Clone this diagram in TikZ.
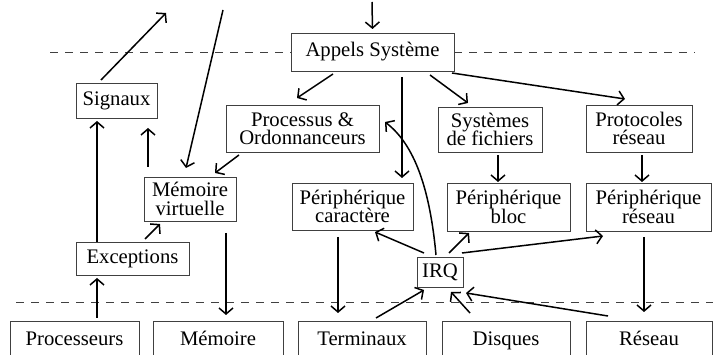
\documentclass[tikz,border=0pt]{standalone}
\usepackage{fontspec}
\setmainfont{Liberation Serif}
\usetikzlibrary{arrows.meta,calc}
\lineskiplimit=-20pt
\tikzset{
  box/.style={draw=black!75, line width=0.8pt, inner sep=0pt, align=center,
    font=\fontsize{20.7pt}{18.3pt}\selectfont},
  hwbox/.style={box, minimum height=40pt, text height=14pt, text depth=4.5pt},
  arr/.style={line width=1.5pt, -{Straight Barb[length=6pt,width=14pt,line width=1.5pt]}},
  sep/.style={draw=black!75, line width=0.8pt, dash pattern=on 8pt off 7pt}
}
\begin{document}
\begin{tikzpicture}[x=1pt,y=-1pt]
\useasboundingbox (0,0) rectangle (724,355);
\clip (0,0) rectangle (724,355);
% boxes
\node[box, minimum width=163pt, minimum height=38pt] (app) at (372.5,52) {Appels Système};
\node[box, minimum width=81pt, minimum height=35pt] (sig) at (116.5,100.5) {Signaux};
\node[box, minimum width=153pt, minimum height=47pt] (proc) at (302.5,128.5) {Processus \&\\Ordonnanceurs};
\node[box, minimum width=104pt, minimum height=45pt] (sdf) at (490,129.5) {Systèmes\\de fichiers};
\node[box, minimum width=106pt, minimum height=47pt] (prot) at (639,128.5) {Protocoles\\réseau};
\node[box, minimum width=92pt, minimum height=44pt] (mv) at (190,199) {Mémoire\\virtuelle};
\node[box, minimum width=121pt, minimum height=47pt] (pc) at (352.5,206.5) {Périphérique\\caractère};
\node[box, minimum width=123pt, minimum height=48pt] (pb) at (508.5,207) {Périphérique\\bloc};
\node[box, minimum width=125pt, minimum height=48pt] (pr) at (648.5,207) {Périphérique\\réseau};
\node[box, minimum width=113pt, minimum height=33pt] (exc) at (132.5,258.5) {Exceptions};
\node[box, minimum width=46pt, minimum height=30pt] (irq) at (440,272) {IRQ};
\node[hwbox, minimum width=129pt] (cpu) at (74.5,341) {Processeurs};
\node[hwbox, minimum width=130pt] (mem) at (218,341) {Mémoire};
\node[hwbox, minimum width=128pt] (term) at (362,341) {Terminaux};
\node[hwbox, minimum width=128pt] (disk) at (506,341) {Disques};
\node[hwbox, minimum width=126pt] (res) at (649,341) {Réseau};
% free ends
\coordinate (topin) at (372,2);
\coordinate (sigout) at (166,13);
\coordinate (mvin) at (223,10);
\coordinate (ltop) at (50,52);
\coordinate (rtop) at (695,52);
\coordinate (lbot) at (16,302);
\coordinate (rbot) at (713,302);
% separators
\draw[sep] (ltop) -- (app.west);
\draw[sep] (app.east) -- (rtop);
\draw[sep] (lbot) -- (rbot);
% connectors
\draw[arr] (topin) -- ($(app)+(0,-23)$);
\draw[arr] ($(sig)+(-15.5,-20.5)$) -- (sigout);
\draw[arr] (mvin) -- ($(mv)+(-4,-31)$);
\draw[arr] ($(app)+(-39.5,22)$) -- ($(proc)+(-5.5,-30.5)$);
\draw[arr] ($(proc)+(-63.5,26.5)$) -- ($(mv)+(25,-26)$);
\draw[arr] ($(exc)+(-35.5,-16.5)$) -- ($(sig)+(-19.5,20.5)$);
\draw[arr] ($(mv)+(-42,-32)$) -- ($(sig)+(31.5,27.5)$);
\draw[arr] ($(exc)+(12.5,-19.5)$) -- ($(mv)+(-30,25)$);
\draw[arr] ($(cpu)+(22.5,-23)$) -- ($(exc)+(-35.5,19.5)$);
\draw[arr] ($(mv)+(36,34)$) -- ($(mem)+(8,-26)$);
\draw[arr] ($(app)+(29.5,25)$) -- ($(pc)+(49.5,-28.5)$);
\draw[arr] ($(irq)+(-4,-17)$) .. controls (430,190) and (415,145) .. ($(proc)+(82.5,-6.5)$);
\draw[arr] ($(app)+(57.5,23)$) -- ($(sdf)+(-22,-26.5)$);
\draw[arr] ($(app)+(79.5,21)$) -- ($(prot)+(-14,-29.5)$);
\draw[arr] ($(sdf)+(8,25.5)$) -- ($(pb)+(-10.5,-25)$);
\draw[arr] ($(prot)+(3,26.5)$) -- ($(pr)+(-6.5,-25)$);
\draw[arr] ($(pc)+(-14.5,30.5)$) -- ($(term)+(-24,-28)$);
\draw[arr] ($(pr)+(-4.5,30)$) -- ($(res)+(-5,-29)$);
\draw[arr] ($(irq)+(-16,-19)$) -- ($(pc)+(22.5,25.5)$);
\draw[arr] ($(irq)+(9,-19)$) -- ($(pb)+(-39.5,26)$);
\draw[arr] ($(irq)+(22,-19)$) -- ($(pr)+(-45.5,29)$);
\draw[arr] ($(term)+(14,-23)$) -- ($(irq)+(-16,18)$);
\draw[arr] ($(disk)+(-36,-28)$) -- ($(irq)+(11,20)$);
\draw[arr] ($(res)+(-41,-25)$) -- ($(irq)+(26,21)$);
\end{tikzpicture}
\end{document}
